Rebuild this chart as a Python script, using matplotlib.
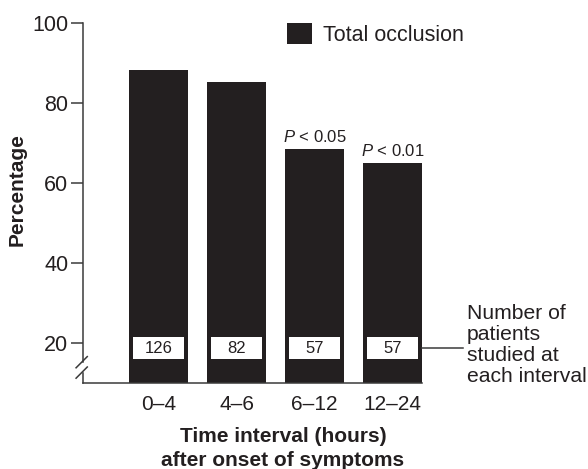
import numpy as np
import matplotlib
matplotlib.use("Agg")
import matplotlib.pyplot as plt
import matplotlib.transforms as mtransforms

plt.rcParams['font.family'] = ['Liberation Sans', 'DejaVu Sans']
plt.rcParams['mathtext.fontset'] = 'custom'
plt.rcParams['mathtext.it'] = 'Liberation Sans:italic'
plt.rcParams['mathtext.rm'] = 'Liberation Sans'

INK = '#231f20'
AXIS = '#3a3a3a'

# data
intervals = ['0\u20134', '4\u20136', '6\u201312', '12\u201324']
occlusion_pct = [88.2, 85.2, 68.6, 65.1]
n_patients = [126, 82, 57, 57]
p_labels = [None, None, '0.05', '0.01']
y_ticks = [20, 40, 60, 80, 100]

fig = plt.figure(figsize=(5.88, 4.69), dpi=100)
ax = fig.add_axes([0.1412, 0.1834, 0.5765, 0.7669])

x = np.arange(len(intervals))
bar_w = 0.75
ax.bar(x, occlusion_pct, width=bar_w, bottom=0, color=INK, label='Total occlusion', zorder=2)

# white boxes holding the patient counts
box_bottom, box_top = 15.9, 21.4
box_mid = (box_bottom + box_top) / 2
ax.bar(x, box_top - box_bottom, width=0.655, bottom=box_bottom, color='white', zorder=3)
for xi, n in zip(x, n_patients):
    ax.text(xi, box_mid, str(n), ha='center', va='center', fontsize=12, color=INK, zorder=4)

# significance labels
for xi, h, p in zip(x, occlusion_pct, p_labels):
    if p is None:
        continue
    ax.annotate(r'$\it{P}$ < ' + p, xy=(xi, h), xytext=(0, 3), textcoords='offset points',
                ha='center', va='bottom', fontsize=12, color=INK)

ax.set_xlim(-0.965, x[-1] + bar_w / 2)
ax.set_ylim(10, 100)

# spines: only bottom kept, left drawn by hand with the break
for s in ['top', 'right', 'left']:
    ax.spines[s].set_visible(False)
ax.spines['bottom'].set_color(AXIS)
ax.spines['bottom'].set_linewidth(1.1)

blend = mtransforms.blended_transform_factory(ax.transAxes, ax.transData)
ax.plot([0, 0], [15.2, 100], transform=blend, color=AXIS, lw=1.1, clip_on=False, zorder=5)
ax.plot([0, 0], [10, 12.6], transform=blend, color=AXIS, lw=1.1, clip_on=False, zorder=5)
dx, dy = 0.0165, 1.4
for yc in [15.2, 12.6]:
    ax.plot([-dx - 0.004, dx - 0.004], [yc - dy, yc + dy], transform=blend,
            color=AXIS, lw=1.1, clip_on=False, zorder=5)

ax.set_yticks(y_ticks)
ax.set_yticklabels([str(t) for t in y_ticks])
ax.tick_params(axis='y', length=8.6, width=1.1, color=AXIS, pad=2, labelsize=15.5, labelcolor=INK)
ax.set_xticks(x)
ax.set_xticklabels(intervals)
ax.tick_params(axis='x', length=0, pad=9, labelsize=15, labelcolor=INK)

# leader line to the note on the right
ax.plot([x[-1] + bar_w / 2, 3.9], [box_mid, box_mid], color=AXIS, lw=1.1, clip_on=False)
ax.text(3.95, 19.6, 'Number of\npatients\nstudied at\neach interval', ha='left', va='center',
        fontsize=15.2, color=INK, linespacing=1.13, clip_on=False)

ax.legend(loc='center left', bbox_to_anchor=(287 / 588, 434.5 / 469), bbox_transform=fig.transFigure,
          frameon=False, fontsize=15.5, handlelength=1.15, handleheight=1.15, handletextpad=0.5,
          borderpad=0, borderaxespad=0, labelcolor=INK)

fig.text(17.5 / 588, (469 - 190) / 469, 'Percentage', rotation=90, ha='center', va='center',
         fontsize=15, fontweight='bold', color=INK)
fig.text(283 / 588, 0.0437, 'Time interval (hours)\nafter onset of symptoms', ha='center', va='center',
         fontsize=15, fontweight='bold', color=INK, linespacing=1.3)

fig.savefig('out.png', dpi=100)
